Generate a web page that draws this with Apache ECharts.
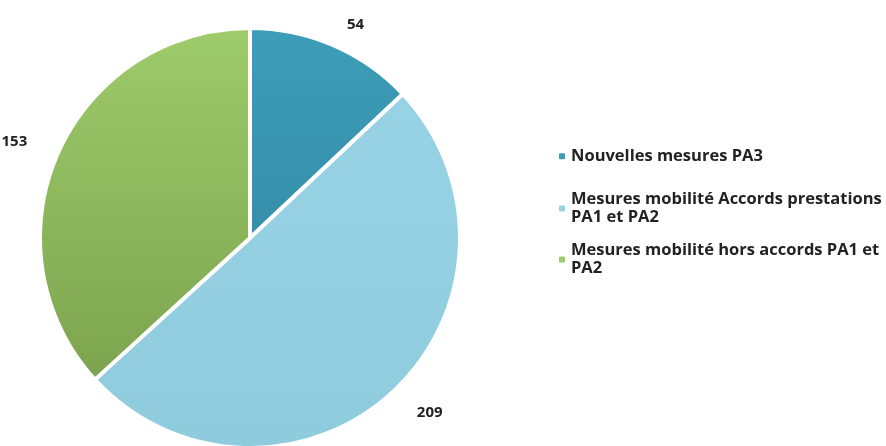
<!DOCTYPE html>
<html><head><meta charset="utf-8">
<script src="https://cdn.jsdelivr.net/npm/echarts@6/dist/echarts.min.js"></script>
<style>html,body{margin:0;padding:0;background:#fff}#c{width:886px;height:446px}</style>
</head><body><div id="c"></div>
<script>
const categories = ['Nouvelles mesures PA3', 'Mesures mobilité Accords prestations PA1 et PA2', 'Mesures mobilité hors accords PA1 et PA2'];
const legendLabels = ['Nouvelles mesures PA3', 'Mesures mobilité Accords prestations\nPA1 et PA2', 'Mesures mobilité hors accords PA1 et\nPA2'];
const values = [54, 209, 153];
const colors = [
  ['#3d9db8', '#368fa9'],
  ['#98d3e5', '#8ecbdd'],
  ['#9ecb6b', '#7ca44e']
];
const chart = echarts.init(document.getElementById('c'));
const font = '"Open Sans", Lato, sans-serif';
const labelLens = [22, 28, 28];
const data = categories.map((n, i) => ({
  name: n, value: values[i],
  labelLine: { show: false, length: labelLens[i], length2: 0 },
  itemStyle: { color: new echarts.graphic.LinearGradient(0, 0, 0, 1, [{offset: 0, color: colors[i][0]}, {offset: 1, color: colors[i][1]}]) }
}));
const legendTops = [142, 185, 236];
chart.setOption({
  animation: false,
  color: colors.map(c => c[0]),
  legend: categories.map((n, i) => ({
    data: [{name: n, itemStyle: {color: colors[i][0]}}],
    orient: 'vertical',
    left: 552, top: legendTops[i],
    itemWidth: 8, itemHeight: 8, itemGap: 4,
    formatter: () => legendLabels[i],
    textStyle: { fontFamily: font, fontWeight: 'bold', fontSize: 16.5, color: '#222', lineHeight: 18.5 }
  })),
  series: [{
    type: 'pie',
    center: [250, 238],
    radius: 210,
    startAngle: 90,
    clockwise: true,
    data: data,
    itemStyle: { borderColor: '#fff', borderWidth: 4 },
    label: { show: true, position: 'outside', formatter: '{c}', overflow: 'none', fontFamily: font, fontWeight: 'bold', fontSize: 15, color: '#222' },
    labelLine: { show: false, length: 22, length2: 0 }
  }]
});
</script></body></html>
